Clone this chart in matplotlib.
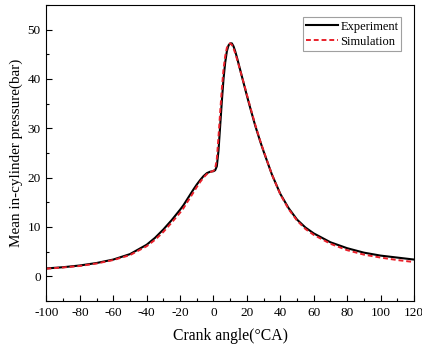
import matplotlib
matplotlib.use("Agg")
import matplotlib.pyplot as plt
from matplotlib.ticker import MultipleLocator

plt.rcParams['font.family'] = ['Liberation Serif', 'DejaVu Serif']
plt.rcParams['axes.unicode_minus'] = False

# Crank angle (deg CA) and mean in-cylinder pressure (bar)
exp_angle = [-100, -90, -80, -70, -60, -50, -40, -35, -30, -25, -20, -18, -15, -12, -10, -8, -6,
             -4, -2, 0, 1, 2, 3, 4, 5, 6, 7, 8, 9, 10, 11, 12, 13, 14, 16, 18, 20, 22, 25, 28,
             30, 35, 40, 45, 50, 55, 60, 70, 80, 90, 100, 110, 120]
exp_pressure = [1.6, 1.85, 2.2, 2.7, 3.4, 4.5, 6.4, 7.8, 9.5, 11.4, 13.5, 14.4, 16.0, 17.6, 18.6,
                19.5, 20.3, 20.9, 21.2, 21.3, 21.5, 22.3, 25.5, 30.5, 35.5, 40.0, 43.3, 45.6,
                46.8, 47.2, 47.2, 46.6, 45.6, 44.4, 41.8, 39.2, 36.6, 34.1, 30.5, 27.3, 25.3,
                20.6, 16.7, 13.8, 11.5, 9.9, 8.7, 6.9, 5.7, 4.8, 4.2, 3.8, 3.4]

sim_angle = [-100, -90, -80, -70, -60, -50, -40, -35, -30, -25, -20, -18, -15, -12, -10, -8, -6,
             -4, -2, 0, 1, 2, 3, 4, 5, 6, 7, 8, 9, 10, 11, 12, 13, 14, 16, 18, 20, 22, 25, 28,
             30, 35, 40, 45, 50, 55, 60, 70, 80, 90, 100, 110, 120]
sim_pressure = [1.55, 1.8, 2.1, 2.6, 3.3, 4.3, 6.1, 7.4, 9.0, 10.9, 12.9, 13.8, 15.4, 17.0, 18.1,
                19.1, 20.0, 20.7, 21.1, 21.4, 21.8, 23.8, 28.3, 33.3, 38.0, 42.0, 44.6, 46.3,
                47.0, 47.2, 46.9, 46.2, 45.2, 44.1, 41.7, 39.3, 36.8, 34.3, 30.7, 27.4, 25.4,
                20.6, 16.6, 13.6, 11.3, 9.6, 8.4, 6.6, 5.3, 4.4, 3.8, 3.3, 2.9]

fig = plt.figure(figsize=(4.22, 3.49), dpi=100)
ax = fig.add_axes([0.110, 0.1375, 0.871, 0.8485])

ax.plot(exp_angle, exp_pressure, color='black', lw=1.5, label='Experiment')
ax.plot(sim_angle, sim_pressure, color='#e8202a', lw=1.4, ls=(0, (2.5, 1.5)), label='Simulation')

ax.set_xlim(-100, 120)
ax.set_ylim(-5, 55)
ax.xaxis.set_major_locator(MultipleLocator(20))
ax.xaxis.set_minor_locator(MultipleLocator(10))
ax.yaxis.set_major_locator(MultipleLocator(10))
ax.yaxis.set_minor_locator(MultipleLocator(5))
ax.tick_params(which='both', direction='in', top=False, right=False, labelsize=9.5)
ax.tick_params(which='major', length=4, width=0.8, pad=4)
ax.tick_params(which='minor', length=2.5, width=0.8)
ax.set_yticks([0, 10, 20, 30, 40, 50])

ax.set_xlabel('Crank angle(°CA)', fontsize=11.3, labelpad=7)
ax.set_ylabel('Mean in-cylinder pressure(bar)', fontsize=10.9, labelpad=3.5)

leg = ax.legend(loc='upper right', fontsize=9, frameon=True, fancybox=False,
                edgecolor='#888888', handlelength=2.5, handletextpad=0.2,
                borderpad=0.25, labelspacing=0.25, borderaxespad=1.0)
leg.get_frame().set_linewidth(0.8)

fig.savefig('out.png', dpi=100)
